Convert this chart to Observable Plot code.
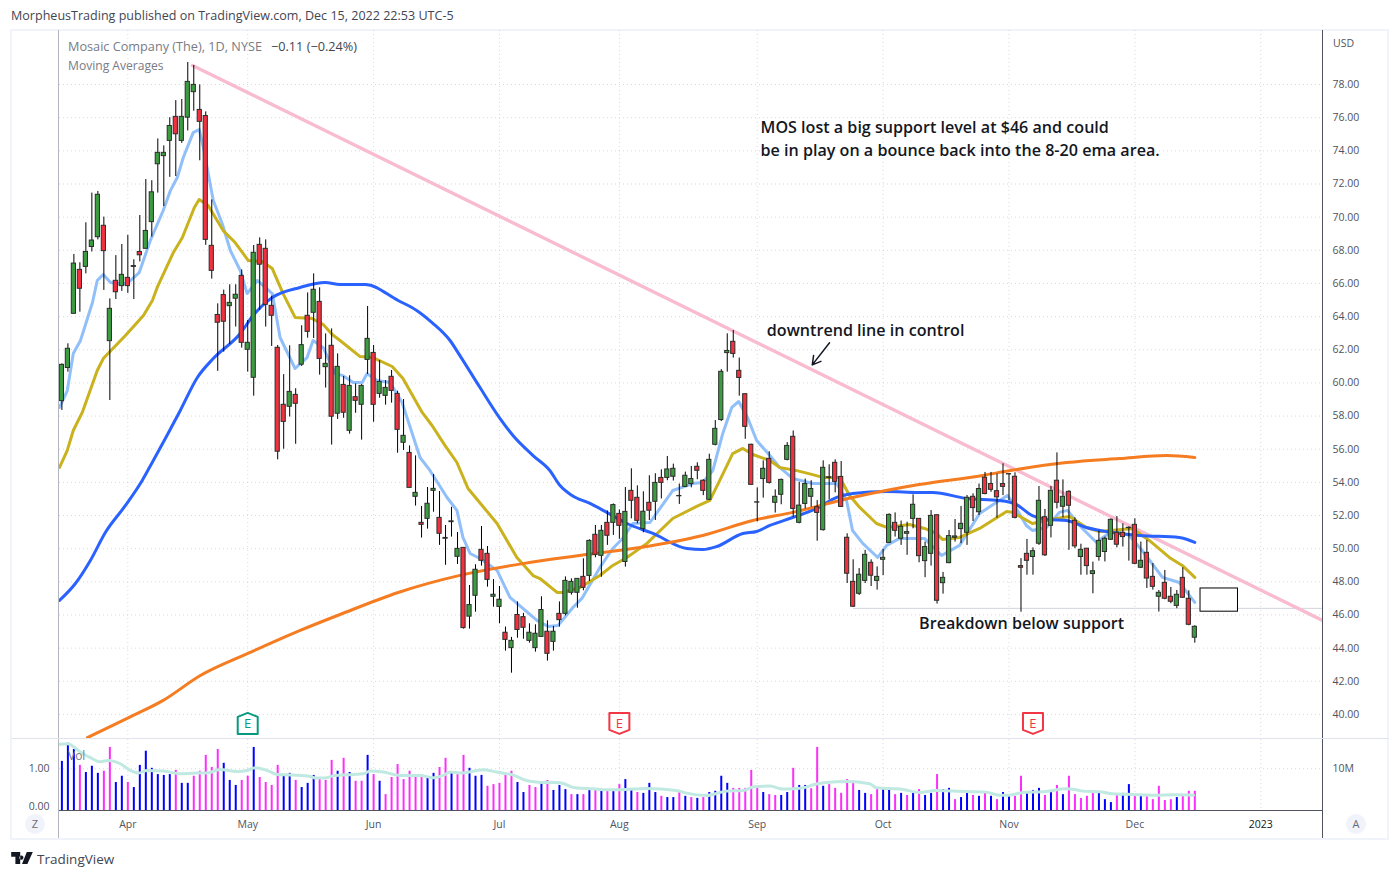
<!DOCTYPE html>
<html>
<head>
<meta charset="utf-8">
<script src="https://cdn.jsdelivr.net/npm/d3@7"></script>
<script src="https://cdn.jsdelivr.net/npm/@observablehq/plot@0.6"></script>
<style>
  html,body{margin:0;padding:0;background:#fff;}
  #stage{position:relative;width:1399px;height:878px;overflow:hidden;font-family:"Open Sans",sans-serif;color:#131722;}
  #stage svg{position:absolute;left:0;}
  .t{position:absolute;white-space:pre;font-size:12px;line-height:16px;}
  .frame{position:absolute;box-sizing:border-box;left:10px;top:29px;width:1379px;height:811px;border:2px solid #f0f3fa;}
  .btn{position:absolute;width:20px;height:20px;border-radius:50%;background:#f0f3fa;color:#6a6d78;font-size:11px;line-height:20px;text-align:center;}
</style>
</head>
<body>
<div id="stage">
  <div class="t" style="left:11px;top:8px;font-size:12.55px;color:#434651;">MorpheusTrading published on TradingView.com, Dec 15, 2022 22:53 UTC-5</div>
  <div class="frame"></div>
  <div class="t" style="left:68px;top:38px;font-size:12.7px;color:#787b86;">Mosaic Company (The), 1D, NYSE</div>
  <div class="t" style="left:271px;top:38px;font-size:12.7px;color:#434651;">−0.11 (−0.24%)</div>
  <div class="t" style="left:68px;top:58px;font-size:12.1px;color:#787b86;">Moving Averages</div>
  <div id="charts"></div>
  <div class="t" style="left:68px;top:748px;color:#787b86;">Vol</div>
  <div class="t" style="left:1333px;top:35px;font-size:10.5px;color:#50535e;">USD</div>
  <div class="btn" style="left:25px;top:814px;">Z</div>
  <div class="btn" style="left:1346px;top:814px;">A</div>
  <svg style="left:11px;top:852px;" width="22" height="12" viewBox="0 0 36 20"><path d="M0 0H15V20H7V8H0Z M17 6a3.4 3.4 0 1 0 0.01 0Z M26 0H36L27 20H18Z" fill="#131722"/></svg>
  <div class="t" style="left:37px;top:850px;font-size:13.5px;line-height:18px;color:#434651;">TradingView</div>
</div>
<script>
// ---- candles, one value per trading day
const opens = [
  58.9,60.9,64.17,66.82,67.0,68.2,68.79,69.48,62.52,66.16,
  65.84,66.34,67.05,67.9,68.09,69.7,73.19,73.68,74.6,76.05,
  74.6,76.0,77.54,76.47,76.1,68.27,64.1,65.3,64.63,65.08,
  66.46,62.0,60.31,68.33,68.09,64.65,62.12,58.68,58.56,59.28,
  61.1,64.05,64.23,64.89,60.95,62.24,58.14,59.88,57.11,59.14,
  58.68,61.39,61.81,59.34,59.22,60.37,59.34,56.39,55.78,53.13,
  51.56,51.8,53.49,51.86,50.65,51.6,49.51,50.05,45.9,47.16,
  49.93,49.69,47.1,46.49,44.93,44.0,46.0,45.87,44.44,44.0,
  44.68,44.99,44.38,46.07,46.07,47.34,47.34,48.3,48.36,50.84,
  49.57,51.56,51.56,52.1,49.2,53.49,53.07,51.18,52.77,52.83,
  54.27,54.27,54.34,53.18,53.73,53.9,54.94,54.1,52.95,56.27,
  57.76,61.8,62.48,60.73,59.32,56.27,52.8,54.2,55.42,52.77,
  53.25,55.36,56.75,51.56,52.7,53.13,52.5,51.12,54.3,55.18,
  54.33,50.66,48.0,47.28,48.06,49.15,48.06,49.33,50.35,51.56,
  50.6,50.9,51.8,51.8,49.25,49.69,52.02,47.92,49.13,50.66,
  51.18,50.96,53.13,52.2,54.28,53.9,53.47,53.9,54.5,54.34,
  48.95,49.69,49.5,50.3,51.9,51.38,54.1,52.53,53.43,51.68,
  49.5,50.0,48.47,49.5,49.8,50.54,50.96,50.96,51.26,51.44,
  48.85,49.75,48.3,47.1,47.94,47.1,46.55,48.24,46.98,44.63];
const highs = [
  61.15,62.36,67.75,67.25,69.66,71.45,71.55,70.0,65.07,67.68,
  68.35,68.9,67.43,70.1,72.27,72.2,74.72,74.3,76.0,77.03,
  77.1,79.33,79.15,77.98,76.35,71.04,64.77,65.6,65.92,65.92,
  66.82,63.77,68.29,68.75,68.63,65.23,62.26,60.5,62.24,59.65,
  63.45,65.43,66.58,65.74,62.96,63.26,61.75,60.39,60.43,59.94,
  59.9,64.61,62.26,61.35,60.14,60.75,59.5,59.0,56.2,55.6,
  52.55,53.69,54.48,53.45,51.4,52.5,50.98,50.05,47.78,49.03,
  51.34,50.13,48.14,47.72,45.27,44.65,46.79,46.1,45.47,45.41,
  47.1,45.65,45.31,46.79,48.3,48.18,48.18,49.39,50.54,51.4,
  51.4,52.28,52.7,52.34,53.69,54.82,53.79,53.43,54.4,54.52,
  54.76,55.56,55.1,53.9,54.62,54.96,55.18,54.16,55.7,57.73,
  60.8,62.96,63.16,61.5,59.32,56.3,53.67,55.3,55.85,53.55,
  54.2,56.4,57.1,54.0,54.2,54.1,52.9,55.3,55.06,55.36,
  55.26,50.9,49.33,48.8,49.9,49.33,48.9,49.96,52.1,52.16,
  51.67,51.6,53.25,51.8,50.4,52.3,52.02,48.57,51.1,51.76,
  52.55,53.21,53.31,53.9,54.6,54.6,54.5,55.12,54.52,54.58,
  49.4,50.56,50.05,53.75,52.37,53.75,55.78,54.15,53.5,51.86,
  50.27,50.0,49.19,51.06,50.7,51.8,51.94,51.5,51.32,51.8,
  50.4,50.5,49.1,47.48,48.69,47.66,47.48,48.85,47.46,45.35];
const lows = [
  58.34,60.65,64.17,64.27,66.58,67.9,68.63,65.58,58.94,65.03,
  65.52,65.4,65.03,67.3,68.09,68.8,71.45,70.64,72.4,72.45,
  74.45,75.2,76.39,73.4,68.3,66.26,60.7,61.86,62.32,63.37,
  62.1,60.65,59.2,64.37,63.37,62.2,55.36,56.0,57.94,56.3,
  61.0,62.7,62.68,60.47,59.69,56.25,57.8,57.87,56.91,58.17,
  56.55,60.51,57.63,59.08,58.66,58.78,55.76,55.92,53.67,52.57,
  50.64,51.18,52.2,50.2,49.0,50.7,49.05,45.15,45.15,46.17,
  48.95,47.68,46.47,45.47,43.82,42.49,44.6,44.54,44.3,43.76,
  44.68,43.22,43.82,45.27,45.95,47.2,46.41,47.46,48.02,49.45,
  48.28,50.2,50.8,50.57,48.89,51.8,51.5,50.96,51.7,51.7,
  53.0,54.1,54.08,52.67,53.7,53.67,54.16,53.2,52.9,56.2,
  57.67,60.65,61.5,59.2,56.6,53.85,51.62,53.05,53.9,52.15,
  52.65,55.3,51.9,51.5,52.4,52.5,50.45,51.06,52.95,53.37,
  52.5,47.9,46.45,47.18,47.9,47.72,47.5,48.37,50.33,50.7,
  50.2,49.6,51.2,49.15,48.25,48.95,46.66,47.26,49.09,50.4,
  50.3,50.2,51.64,52.0,53.25,53.4,51.84,53.2,52.9,51.8,
  46.17,48.4,48.4,50.2,49.53,50.65,52.4,51.86,49.9,50.0,
  48.4,48.4,47.28,49.25,49.2,50.5,50.05,50.1,49.25,49.03,
  48.8,47.6,47.5,46.18,46.92,46.68,46.38,47.0,45.35,44.3];
const closes = [
  61.09,62.06,67.2,65.68,67.9,68.59,71.35,67.95,64.47,65.47,
  66.52,65.84,67.0,67.7,69.17,71.5,73.88,73.88,75.5,75.0,
  76.05,78.16,77.98,75.75,68.63,66.76,63.63,63.69,64.83,65.32,
  62.42,62.42,67.85,67.13,64.71,64.05,55.85,57.65,59.46,58.74,
  62.28,63.08,65.62,61.45,61.15,57.96,60.97,58.2,59.82,58.92,
  59.82,62.66,58.68,60.06,59.7,59.52,57.17,56.81,53.67,53.37,
  51.44,52.71,53.61,50.9,50.6,51.65,49.99,45.21,46.6,48.73,
  49.27,48.12,47.22,46.92,44.5,44.44,45.1,45.23,44.93,44.87,
  46.3,43.66,44.99,45.69,48.06,48.0,48.18,47.64,50.47,49.63,
  51.08,50.78,52.63,51.38,52.22,52.89,51.68,52.23,52.29,53.97,
  53.97,54.78,54.82,53.16,54.4,54.2,54.7,53.49,55.36,57.23,
  60.67,61.93,61.75,60.3,57.35,53.85,52.78,54.82,53.97,53.13,
  54.15,56.2,52.4,52.6,53.9,53.6,52.16,54.88,54.27,54.03,
  52.52,48.49,46.5,48.43,49.63,48.37,48.3,49.45,52.04,51.08,
  51.32,51.0,52.65,49.55,50.1,51.98,46.86,48.24,50.76,50.74,
  51.5,53.07,52.45,53.6,53.3,53.55,53.1,53.73,54.48,51.86,
  48.85,49.27,49.85,52.89,49.6,53.49,52.77,53.13,52.59,50.14,
  49.93,48.95,48.64,50.47,50.6,51.74,50.24,50.7,51.24,49.09,
  49.27,48.2,47.7,47.34,46.98,46.8,47.22,47.04,45.41,45.29];

// ---- volume (millions) and bar direction: b = blue, m = magenta
const volumes = [
  11.76,16.1,14.6,10.8,9.1,10.6,8.9,9.4,15.1,6.7,
  8.2,6.7,5.5,10.8,14.2,10.1,8.6,8.4,8.6,9.6,
  6.5,6.5,8.2,9.4,13.2,10.3,14.6,11.3,7.2,6.0,
  7.2,8.2,15.1,7.9,6.7,6.0,10.8,8.6,8.9,7.2,
  5.5,6.5,8.4,7.9,7.2,12.0,9.4,12.5,9.1,7.0,
  7.0,13.2,8.6,7.0,3.8,7.9,11.0,7.4,9.4,7.9,
  7.9,7.7,8.9,10.3,12.5,8.9,8.9,13.2,10.1,8.2,
  8.4,5.8,6.2,6.5,8.9,9.4,6.7,4.3,6.0,5.5,
  6.5,7.2,4.8,6.0,5.0,3.8,3.8,3.8,5.0,5.0,
  4.8,5.0,4.8,6.2,7.4,4.8,4.3,4.1,6.5,4.3,
  3.4,3.1,3.1,4.3,3.4,3.1,2.9,3.1,4.3,4.6,
  8.2,6.5,5.3,5.3,5.3,9.6,5.3,4.3,3.8,3.6,
  3.6,4.3,10.1,6.0,6.0,5.2,15.1,5.8,6.2,5.3,
  4.1,7.4,7.0,4.8,4.1,3.8,5.3,5.5,5.0,3.8,
  4.1,3.6,4.1,5.0,3.6,4.1,8.6,5.0,5.3,2.6,
  3.1,4.3,3.6,3.4,4.1,3.4,2.6,4.3,3.8,3.4,
  8.2,4.3,4.8,5.3,3.6,4.6,6.0,3.8,8.2,3.8,
  2.9,3.4,4.3,4.3,2.6,1.9,3.6,4.1,6.2,3.6,
  3.6,3.4,2.6,5.8,2.4,2.6,3.1,3.6,4.6,4.6];
const volumeDirs = [
  "bbbmbbbmmb","bmbbbbbbbm","bbmmmmmbbb","mmbmmmmbbm","bbbmmmbmbm",
  "mbmbmmmmmm","mbbmmbmmbb","bmmmmmbbmm","bmbbbmbmbm","bmbmbbmbbb",
  "mbbmbmbmbb","bbmmmmmbmm","bbmbbmmbmm","mmmbbmmbbm","bmbmbbmbbm",
  "bbmbmbmbbm","mbbbmbmbmm","mmmbbbmbbm","bmmmmmbmmm"].join("");

// ---- moving averages: bar index, value
const ema8Bars = [-0.4,0.9,1.9,3.1,5.1,5.9,6.9,8.1,9.25,10.9,12.9,14.75,16.9,18.1,19.25,20.25,21.9,22.9,23.6,25.25,26.75,28.1,29.75,30.9,32.6,35.1,36.4,38.9,40.9,41.9,43.6,45.6,46.9,48.6,50.1,50.9,52.6,54.75,56.75,59.75,61.4,64.25,65.9,66.9,68.1,69.75,72.6,74.75,79.25,81.1,82.75,85.25,86.75,89.75,91.9,93.5,95.25,98.1,101.9,105.25,106.9,108.6,110.25,111.75,112.9,114.4,115.9,118.1,119.75,121.9,125.25,129.25,130.9,131.9,133.6,136.1,137.6,139.75,143.9,146.75,149.75,153.1,155.1,157.75,158.9,160.9,161.9,164.25,166.4,167.75,170.25,172.6,175.25,178.1,180.6,183.6,186.4,189];
const ema8Vals = [58.52,59.54,61.77,62.56,64.85,66.18,66.54,66.06,66.0,66.0,66.66,68.59,70.4,71.6,72.39,73.6,75.1,75.29,74.2,71.0,69.6,67.99,66.78,65.39,66.18,65.39,62.74,60.87,61.53,62.56,62.13,60.56,60.44,60.03,60.03,60.56,60.14,60.03,58.82,55.5,54.72,53.09,52.31,50.68,49.71,49.41,48.69,47.06,45.67,45.31,45.36,46.45,47.0,48.87,50.01,50.6,51.52,51.58,53.51,53.93,53.99,54.72,56.95,58.52,58.88,57.9,56.53,55.62,54.9,54.24,53.93,53.93,52.91,51.1,50.32,49.47,50.2,50.62,50.62,49.59,50.2,52.12,52.61,53.21,52.61,51.4,51.1,51.28,52.19,52.31,51.22,50.37,51.1,50.8,49.71,48.27,47.96,46.76];
const ema20Bars = [-0.4,0.9,1.9,3.4,5.9,6.9,10.6,13.6,15.1,15.9,18.6,20.1,22.1,22.9,24.4,26.9,28.9,31.1,33.4,35.1,36.9,38.9,41.75,43.6,45.1,46.4,49.75,51.9,55.1,56.9,60.1,61.75,63.9,65.9,67.75,72.6,75.9,78.6,79.75,82.6,83.6,86.4,89.75,91.9,94.25,97.6,101.9,105.9,108.1,109.75,111.9,113.6,115.25,118.1,119.75,122.6,125.25,126.9,129.75,131.4,133.1,135.9,137.6,141.4,143.9,145.9,146.9,149.75,153.1,157.6,158.6,161.9,165.9,168.1,170.9,173.1,178.6,181.4,184.75,186.9,189];
const ema20Vals = [54.9,55.93,57.13,58.22,60.75,61.47,62.86,64.07,64.97,65.76,67.87,68.77,70.58,71.06,70.7,69.19,68.47,67.38,67.32,66.9,65.39,63.95,63.89,63.52,62.92,62.56,61.59,61.53,60.99,60.27,58.22,57.43,56.23,55.2,53.63,51.52,49.47,48.38,48.2,47.36,47.36,47.66,48.38,48.99,49.47,50.32,51.82,52.55,52.91,54.12,55.74,56.05,55.68,55.32,54.9,54.71,54.47,54.3,54.3,53.21,52.49,51.52,51.28,51.46,51.22,50.92,50.56,50.68,51.22,52.25,52.19,51.52,51.82,51.94,51.28,51.04,51.22,50.5,49.47,48.99,48.27];
const ema50Bars = [-0.4,2.25,4.75,7.25,10.6,13.4,15.25,19.75,22.6,25.25,29.75,31.9,35.1,39.75,43.9,46.4,50.6,56.1,59.25,61.75,64.75,66.4,69.75,73.1,75.25,78.6,81.4,83.1,85.1,88.1,90.9,94.25,98.6,104.25,106.9,109.25,113.6,115.9,118.1,121.9,125.9,129.25,131.9,137.6,143,145.25,150.9,156.4,158.9,161.9,164.75,167.6,170.9,175.25,179.75,186.4,189];
const ema50Vals = [46.88,47.9,49.29,50.98,52.61,54.12,55.32,58.34,60.33,61.47,62.98,64.07,65.15,65.76,66.06,65.94,65.94,64.97,64.36,63.64,62.56,61.65,59.72,57.85,56.83,55.62,54.72,53.81,53.21,52.73,52.19,51.52,50.92,50.01,49.95,50.13,50.92,51.04,51.4,51.88,52.43,53.09,53.33,53.45,53.39,53.39,53.03,52.91,52.73,52.0,51.76,51.7,51.28,50.98,50.8,50.68,50.38];
const ema200Bars = [4.25,11.9,16.9,23.1,31.4,39.75,46.4,56.1,66.4,76.9,86.4,96.4,106.9,115.25,121.9,131.9,143,153.6,158,167.6,176.4,184.3,189];
const ema200Vals = [38.6,39.94,40.85,42.35,43.74,45.07,46.03,47.36,48.39,49.1,49.59,50.07,50.8,51.7,52.19,53.09,53.87,54.42,54.7,55.2,55.44,55.62,55.5];
const volMaBars = [-0.4,0.9,3.1,4.75,6.4,7.8,9.75,11.4,12.8,14.2,17,19.75,22.5,24.2,26.4,29.2,30.9,32.25,34.2,35.9,38.6,41.4,42.25,43.9,45.3,48.6,50.3,51.4,53.6,56.4,59.75,62,63.6,64.75,66.4,70.3,72.5,75.3,77.5,80.3,83.1,85.6,88.6,90.9,93.1,97.5,102.5,104.2,107.5,110.9,113.7,115.3,118.1,120.3,122,124.2,125.3,127.5,130.9,134.75,135.9,140.3,143.1,145.8,148.6,154.2,156.4,158.1,160.3,164.2,167.5,169.2,170.3,173.1,175.3,178.6,182,185.9,188.8];
const volMaVals = [15.84,16.0,14.0,12.64,11.68,12.0,11.2,9.6,8.96,9.6,9.44,8.8,8.96,8.96,9.84,9.36,9.6,10.24,9.6,8.64,8.48,8.16,7.76,7.76,8.32,8.64,8.8,9.44,9.2,8.4,8.4,7.84,8.4,9.2,8.96,9.76,9.2,8.48,7.2,6.72,6.64,5.44,5.2,4.96,4.96,5.28,4.8,4.16,3.6,4.64,4.8,5.6,5.84,5.12,5.2,5.6,6.16,6.72,6.96,6.4,5.44,5.04,4.32,4.8,4.64,4.4,3.68,3.68,4.32,4.56,5.2,4.96,4.64,4.48,4.0,3.84,3.68,3.76,3.68];

// ---- drawings
const trendBars = [21.79,210.3];
const trendVals = [79.15,45.67];
const supportBars = [132.07,210.3];
const supportVals = [46.4,46.4];
const boxBars = [189.95,196.2];
const boxVals = [46.2,47.6];
const arrowBars = [128.06,125.18];
const arrowVals = [62.42,61.09];
const noteTexts = ["MOS lost a big support level at $46 and could","be in play on a bounce back into the 8-20 ema area.","downtrend line in control","Breakdown below support"];
const noteBars = [116.55,116.55,117.6,143.0];
const noteVals = [75.4,74.02,63.16,45.49];
const earningsBars = [31,93,162];
const earningsBeat = [true,false,false];
const earningsLevel = 39.46;

// ---- axes
const priceTicks = d3.range(40,80,2);
const monthBars = [11,31,52,73,93,116,137,158,179,200];
const monthNames = ["Apr","May","Jun","Jul","Aug","Sep","Oct","Nov","Dec","2023"];

const xDomain = [-0.4,210.3];
const FONT = '"Open Sans", sans-serif';
const bars = d3.range(closes.length);
const series = (b,v) => b.map((x,k) => ({x, y:v[k]}));
const house = dir => ({draw(ctx,size){
  const s = Math.sqrt(size/Math.PI), d = dir;
  ctx.moveTo(0,-1.05*s*d); ctx.lineTo(s,-0.65*s*d); ctx.lineTo(s,1.05*s*d);
  ctx.lineTo(-s,1.05*s*d); ctx.lineTo(-s,-0.65*s*d); ctx.closePath();
}});
const gridStyle = {stroke:"#b9bcc8", strokeOpacity:0.55, strokeDasharray:"1 3", strokeWidth:1};
const emaLine = (b,v,stroke,w,curve) => Plot.line(series(b,v),{x:"x",y:"y",stroke,strokeWidth:w,curve,clip:true});

const pricePlot = Plot.plot({
  width:1399, height:738, marginTop:30, marginBottom:0, marginLeft:59, marginRight:77,
  style:{background:"transparent",fontFamily:FONT,top:"0px"},
  x:{type:"linear",domain:xDomain,axis:null},
  y:{type:"linear",domain:[38.55,81.26]},
  marks:[
    Plot.gridY(priceTicks,gridStyle),
    Plot.gridX(monthBars,gridStyle),
    Plot.axisY(priceTicks,{anchor:"right",tickSize:0,tickPadding:10,label:null,fontSize:10.5,fill:"#50535e",tickFormat:d=>d.toFixed(2)}),
    Plot.line(series(supportBars,supportVals),{x:"x",y:"y",stroke:"#d1d4dc",strokeWidth:1,clip:true}),
    Plot.line(series(trendBars,trendVals),{x:"x",y:"y",stroke:"#f8bbd0",strokeWidth:3.4,clip:true}),
    emaLine(ema8Bars,ema8Vals,"#90bff9",3,"linear"),
    emaLine(ema20Bars,ema20Vals,"#c9b21d",3,"linear"),
    emaLine(ema50Bars,ema50Vals,"#2962ff",3,"monotone-x"),
    emaLine(ema200Bars,ema200Vals,"#f57c21",3,"monotone-x"),
    Plot.ruleX(bars,{x:i=>i,y1:i=>lows[i],y2:i=>highs[i],stroke:"#000",strokeWidth:1}),
    Plot.rect(bars,{x1:i=>i-0.35,x2:i=>i+0.35,y1:i=>opens[i],y2:i=>closes[i],
      fill:i=>closes[i]>=opens[i]?"#3d9c41":"#f2303f",stroke:"#2a2e2a",strokeWidth:1}),
    Plot.rect([0],{x1:boxBars[0],x2:boxBars[1],y1:boxVals[0],y2:boxVals[1],fill:"#fff",stroke:"#000",strokeWidth:1}),
    Plot.arrow([0],{x1:arrowBars[0],y1:arrowVals[0],x2:arrowBars[1],y2:arrowVals[1],stroke:"#131722",strokeWidth:1.5,headLength:10,bend:0}),
    Plot.text(noteTexts,{x:(d,k)=>noteBars[k],y:(d,k)=>noteVals[k],text:d=>d,textAnchor:"start",fontSize:16.12,fontWeight:600,fill:"#131722"}),
    Plot.dot(earningsBars.filter((d,k)=>earningsBeat[k]),{x:d=>d,y:earningsLevel,r:10,symbol:house(1),fill:"#fff",stroke:"#089981",strokeWidth:2,strokeLinejoin:"round"}),
    Plot.dot(earningsBars.filter((d,k)=>!earningsBeat[k]),{x:d=>d,y:earningsLevel,r:10,symbol:house(-1),fill:"#fff",stroke:"#f23645",strokeWidth:2,strokeLinejoin:"round"}),
    Plot.text(earningsBars,{x:d=>d,y:earningsLevel,text:()=>"E",fontSize:13,fill:(d,k)=>earningsBeat[k]?"#089981":"#f23645"})
  ]
});

const volumePlot = Plot.plot({
  width:1399, height:100, marginTop:1, marginBottom:28, marginLeft:59, marginRight:77,
  style:{background:"transparent",fontFamily:FONT,top:"738px"},
  x:{type:"linear",domain:xDomain,axis:null},
  y:{type:"linear",domain:[0,17]},
  marks:[
    Plot.gridY([10],gridStyle),
    Plot.gridX(monthBars,gridStyle),
    Plot.ruleX(bars,{x:i=>i,y1:0,y2:i=>volumes[i],stroke:i=>volumeDirs[i]==="b"?"#0000ff":"#fb2ffb",strokeWidth:2}),
    Plot.line(series(volMaBars,volMaVals),{x:"x",y:"y",stroke:"#bfe9e1",strokeWidth:3,curve:"monotone-x"}),
    Plot.ruleY([0],{stroke:"#50535e",strokeWidth:1}),
    Plot.axisY([10],{anchor:"right",tickSize:0,tickPadding:10,label:null,fontSize:10.5,fill:"#50535e",tickFormat:()=>"10M"}),
    Plot.axisY([10],{anchor:"left",tickSize:0,tickPadding:10,label:null,fontSize:10.5,fill:"#50535e",tickFormat:()=>"1.00"}),
    Plot.axisY([0],{anchor:"left",tickSize:0,tickPadding:10,dy:-4,label:null,fontSize:10.5,fill:"#50535e",tickFormat:()=>"0.00"}),
    Plot.axisX(monthBars,{anchor:"bottom",tickSize:0,tickPadding:10,label:null,fontSize:10.5,
      fill:d=>d===200?"#131722":"#50535e",fontWeight:d=>d===200?600:400,
      tickFormat:d=>monthNames[monthBars.indexOf(d)]})
  ]
});

const host = document.getElementById("charts");
host.append(pricePlot, volumePlot);

// pane dividers drawn as a frame overlay
const overlay = d3.create("svg").attr("width",1399).attr("height",878).style("top","0px").style("pointer-events","none");
[[58,30,58,838,"#b2b5be"],[1322,30,1322,838,"#50535e"],[11,738,1388,738,"#e0e3eb"]].forEach(l=>{
  overlay.append("line").attr("x1",l[0]+.5).attr("y1",l[1]+(l[1]===l[3]?.5:0)).attr("x2",l[2]+.5).attr("y2",l[3]+(l[1]===l[3]?.5:0)).attr("stroke",l[4]);
});
host.append(overlay.node());
</script>
</body>
</html>
